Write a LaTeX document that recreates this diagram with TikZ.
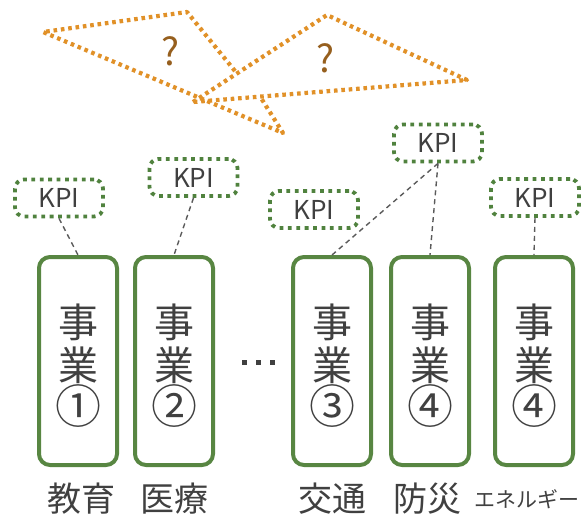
\documentclass[tikz,border=0pt]{standalone}
\usepackage{fontspec}
\setmainfont{Noto Sans CJK JP}
\newfontfamily\cjk{Noto Sans CJK JP}
\definecolor{boxgreen}{RGB}{88,134,66}
\definecolor{kpigreen}{RGB}{80,130,62}
\definecolor{dotorange}{RGB}{225,145,40}
\definecolor{qbrown}{RGB}{150,95,30}
\definecolor{txt}{RGB}{64,64,64}
\definecolor{conn}{RGB}{90,90,90}
\newcommand{\circnum}[1]{{\fontsize{46}{43}\selectfont #1}}
\begin{document}
\begin{tikzpicture}[x=1pt,y=-1pt,
  bizbox/.style={draw=boxgreen,line width=4pt,rounded corners=11pt,minimum width=78pt,minimum height=208pt,inner sep=0pt},
  kpibox/.style={draw=kpigreen,line width=3.8pt,dash pattern=on 3.8pt off 4.6pt,rounded corners=9pt,minimum width=88pt,minimum height=37pt,inner sep=0pt,text=txt,font=\fontsize{26}{30}\selectfont},
  biztext/.style={text=txt,align=center,font=\fontsize{40}{43}\selectfont,inner sep=0pt},
  lbl/.style={text=txt,font=\fontsize{34}{38}\selectfont,inner sep=0pt},
  conn/.style={draw=conn,line width=1.4pt,dash pattern=on 5pt off 4pt},
  orangedot/.style={draw=dotorange,line width=4.2pt,dash pattern=on 3.6pt off 3.8pt,line join=round},
  qmark/.style={text=qbrown,font=\fontsize{38}{42}\selectfont,inner sep=0pt}]
\useasboundingbox (0,0) rectangle (582,515);

% orange dotted shapes
\coordinate (r1) at (193,102);
\coordinate (r2) at (327,15);
\coordinate (r3) at (467,80);
\draw[orangedot] (r1) -- (r2) -- (r3) -- cycle;
\coordinate (l1) at (235,71);
\coordinate (l2) at (187,12);
\coordinate (l3) at (43,32);
\coordinate (l4) at (283,133);
\coordinate (l5) at (261,98);
\draw[orangedot] (l1) -- (l2) -- (l3) -- (l4) -- (l5);
\node[qmark] (q1) at (171,51) {?};
\node[qmark] (q2) at (326,58) {?};

% business boxes
\node[bizbox] (b1) at (78,361) {};
\node[bizbox] (b2) at (174,361) {};
\node[bizbox] (b3) at (332,361) {};
\node[bizbox] (b4) at (430,361) {};
\node[bizbox] (b5) at (534,361) {};
\node[biztext] (t1) at (78,366) {事\\業\\\circnum{①}};
\node[biztext] (t2) at (174,366) {事\\業\\\circnum{②}};
\node[biztext] (t3) at (332,366) {事\\業\\\circnum{③}};
\node[biztext] (t4) at (430,366) {事\\業\\\circnum{④}};
\node[biztext] (t5) at (534,366) {事\\業\\\circnum{④}};

% ellipsis
\node[fill=txt,minimum size=5pt,inner sep=0pt] (e1) at (244,362) {};
\node[fill=txt,minimum size=5pt,inner sep=0pt] (e2) at (258,362) {};
\node[fill=txt,minimum size=5pt,inner sep=0pt] (e3) at (272,362) {};

% labels
\node[lbl] (n1) at (82,499) {教育};
\node[lbl] (n2) at (174,499) {医療};
\node[lbl] (n3) at (332,499) {交通};
\node[lbl] (n4) at (427,499) {防災};
\node[lbl,font=\fontsize{21}{24}\selectfont] (n5) at (527,499) {エネルギー};

% KPI boxes
\node[kpibox] (k1) at (59,198) {KPI};
\node[kpibox] (k2) at (193.5,177.5) {KPI};
\node[kpibox] (k3) at (314,209.5) {KPI};
\node[kpibox] (k4) at (438,143) {KPI};
\node[kpibox] (k5) at (535,197.5) {KPI};

% connectors
\draw[conn] (k1.south) -- (b1.north);
\draw[conn] (k2.south) -- (b2.north);
\draw[conn] (k4.south) -- (b3.north);
\draw[conn] (k4.south) -- (b4.north);
\draw[conn] (k5.south) -- (b5.north);
\end{tikzpicture}
\end{document}
